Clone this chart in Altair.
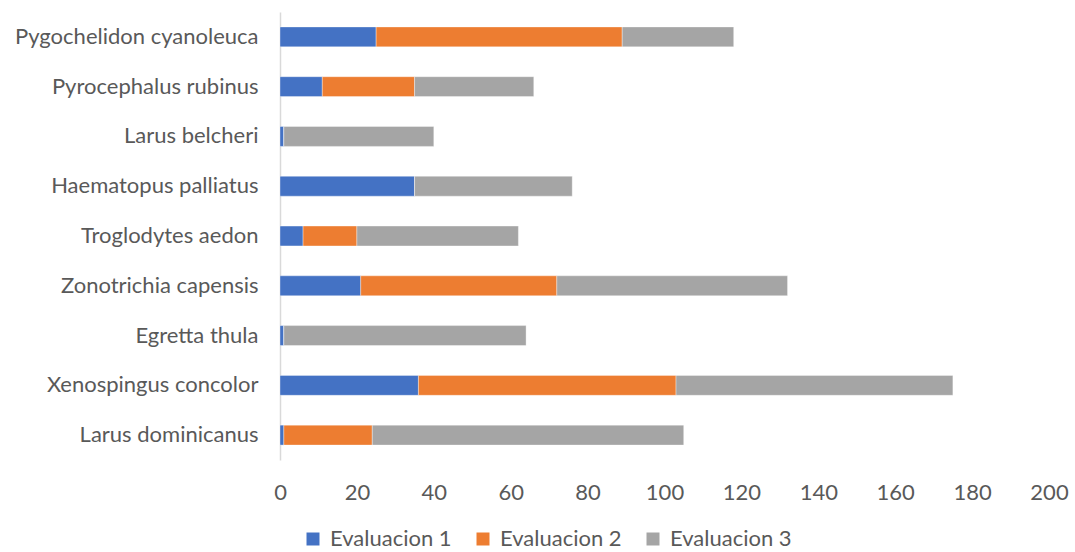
import altair as alt
import pandas as pd

species = [
    "Pygochelidon cyanoleuca",
    "Pyrocephalus rubinus",
    "Larus belcheri",
    "Haematopus palliatus",
    "Troglodytes aedon",
    "Zonotrichia capensis",
    "Egretta thula",
    "Xenospingus concolor",
    "Larus dominicanus",
]
series = ["Evaluacion 1", "Evaluacion 2", "Evaluacion 3"]
eval1 = [25, 11, 1, 35, 6, 21, 1, 36, 1]
eval2 = [64, 24, 0, 0, 14, 51, 0, 67, 23]
eval3 = [29, 31, 39, 41, 42, 60, 63, 72, 81]
x_ticks = [0, 20, 40, 60, 80, 100, 120, 140, 160, 180, 200]
colors = ["#4472C4", "#ED7D31", "#A5A5A5"]

rows = []
for i, sp in enumerate(species):
    for k, vals in enumerate([eval1, eval2, eval3]):
        rows.append({"especie": sp, "serie": series[k], "orden": k, "valor": vals[i]})
df = pd.DataFrame(rows)

FONT = "Lato"
TEXT = "#595959"
SIZE = 22

chart = (
    alt.Chart(df)
    .mark_bar(stroke="white", strokeWidth=0.6, strokeOpacity=0.6)
    .encode(
        y=alt.Y(
            "especie:N",
            sort=species,
            title=None,
            scale=alt.Scale(paddingInner=0.6, paddingOuter=0.3),
            axis=alt.Axis(
                domainColor="#D9D9D9",
                domainWidth=1.5,
                ticks=False,
                labelFont=FONT,
                labelFontSize=SIZE,
                labelColor=TEXT,
                labelPadding=22,
                labelLimit=400,
            ),
        ),
        x=alt.X(
            "valor:Q",
            stack="zero",
            title=None,
            scale=alt.Scale(domain=[0, 200], nice=False),
            axis=alt.Axis(
                values=x_ticks,
                domain=False,
                ticks=False,
                grid=False,
                labelFlush=False,
                labelFont=FONT,
                labelFontSize=SIZE,
                labelColor=TEXT,
                labelPadding=22,
            ),
        ),
        color=alt.Color(
            "serie:N",
            sort=series,
            scale=alt.Scale(domain=series, range=colors),
            legend=alt.Legend(
                title=None,
                orient="none",
                direction="horizontal",
                legendX=22,
                legendY=516,
                symbolType="square",
                symbolSize=169,
                symbolStrokeWidth=0,
                labelFont=FONT,
                labelFontSize=SIZE,
                labelColor=TEXT,
                labelOffset=6,
                columnPadding=20,
            ),
        ),
        order=alt.Order("orden:Q", sort="ascending"),
    )
    .properties(
        width=769,
        height=448,
        padding={"left": 280, "top": 12, "right": 26, "bottom": 92},
        autosize=alt.AutoSizeParams(type="none"),
    )
    .configure_view(stroke=None)
)

chart.save("out.html", embed_options={"renderer": "svg", "actions": False})
